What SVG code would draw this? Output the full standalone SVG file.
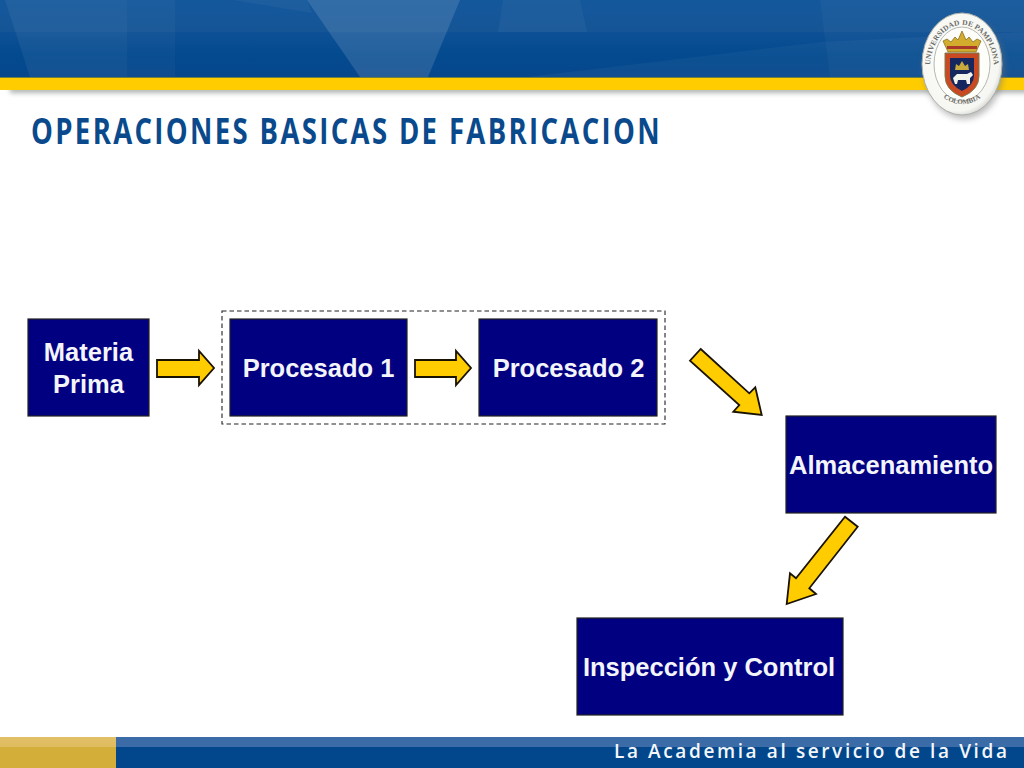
<svg xmlns="http://www.w3.org/2000/svg" width="1024" height="768" viewBox="0 0 1024 768">
<style>
.box{fill:#000080;stroke:#222;stroke-width:1.2}
.lbl{font-family:"Liberation Sans",Arial,sans-serif;font-weight:700;font-size:25.500px;fill:#f4f4fb;text-anchor:middle}
.arrow{fill:#fc0;stroke:#1a1200;stroke-width:1.8;stroke-linejoin:miter}
.facet{fill:#fff}
</style>
<defs>
<linearGradient id="hdrTop" x1="0" y1="0" x2="0" y2="1"><stop offset="0" stop-color="#14589c"/><stop offset="1" stop-color="#155596"/></linearGradient>
<linearGradient id="hdrBot" x1="0" y1="0" x2="0" y2="1"><stop offset="0" stop-color="#0e5095"/><stop offset=".5" stop-color="#034a8f"/><stop offset="1" stop-color="#07478c"/></linearGradient>
<linearGradient id="gold" x1="0" y1="0" x2="0" y2="1"><stop offset="0" stop-color="#e2c067"/><stop offset=".32" stop-color="#e0bc60"/><stop offset=".33" stop-color="#d3ae38"/><stop offset="1" stop-color="#d3ae38"/></linearGradient>
<radialGradient id="seal" cx=".45" cy=".45" r=".6"><stop offset="0" stop-color="#fff"/><stop offset=".85" stop-color="#f6f6f2"/><stop offset="1" stop-color="#c9cbc6"/></radialGradient>
<filter id="soft" x="-30%" y="-30%" width="160%" height="160%"><feGaussianBlur stdDeviation="3"/></filter>
<filter id="blur1" x="-10%" y="-10%" width="120%" height="120%"><feGaussianBlur stdDeviation=".5"/></filter>
<filter id="shadowBlur" x="-2%" y="-100%" width="104%" height="300%"><feGaussianBlur stdDeviation="2.500"/></filter>
<path id="arcTop" d="M930,68 A32,43 0 1 1 994,68"/>
<path id="arcBot" d="M940,95 A34,38 0 0 0 984,95"/>
</defs>

<g id="header">
<rect x="10" y="86" width="1030" height="7" fill="#6e7674" opacity=".55" filter="url(#shadowBlur)"/>
<rect width="1024" height="32" fill="url(#hdrTop)"/>
<rect y="32" width="1024" height="45" fill="url(#hdrBot)"/>
<polygon class="facet" opacity=".13" points="307,0 460,0 428,77 360,77"/>
<polygon class="facet" opacity=".03" points="127,0 175,0 175,77 127,77"/>
<polygon class="facet" opacity=".06" points="5,0 127,0 127,77 30,77"/>
<polygon class="facet" opacity=".04" points="233,0 307,0 312,13"/>
<polygon class="facet" opacity=".04" points="503,0 580,0 587,32 498,32"/>
<polygon class="facet" opacity=".04" points="527,77 820,42 1024,32 1024,77"/>
<polygon class="facet" opacity=".03" points="820,0 1024,0 1024,77 830,77"/>
<rect y="77" width="1024" height="13" fill="#fc0"/>
<rect y="77" width="1024" height="1" fill="#6f7f40"/>
</g>

<g id="title"><text x="31" y="143.500" font-family="'Open Sans','Noto Sans',sans-serif" font-weight="700" font-size="35" letter-spacing="3" fill="#0a4a8c" textLength="631" lengthAdjust="spacingAndGlyphs">OPERACIONES BASICAS DE FABRICACION</text></g>

<g id="logo">
<ellipse cx="964" cy="68" rx="40" ry="51" fill="#777" opacity=".5" filter="url(#soft)"/>
<ellipse cx="962" cy="64" rx="40" ry="51" fill="url(#seal)" stroke="#aab0aa" stroke-width="1"/>
<ellipse cx="962" cy="64" rx="28" ry="37" fill="#fdfdfa" stroke="#b5b8b0" stroke-width="1"/>
<text font-family="'Liberation Serif',serif" font-weight="700" font-size="7.500" fill="#6b6b66"><textPath href="#arcTop" startOffset="50%" text-anchor="middle" textLength="112" lengthAdjust="spacing">UNIVERSIDAD DE PAMPLONA</textPath></text>
<text font-family="'Liberation Serif',serif" font-weight="700" font-size="7" fill="#6b6b66"><textPath href="#arcBot" startOffset="50%" text-anchor="middle">COLOMBIA</textPath></text>
<g filter="url(#blur1)">
<polygon points="943,41 947,39 951,42 955,37 958,40 962,31 966,40 969,37 973,42 977,39 981,41 976,52 948,52" fill="#d3ac2e" stroke="#7d6418" stroke-width=".7"/>
<rect x="947" y="46" width="30" height="3" fill="#a8382a"/>
<path d="M945,53 H979 V76 Q979,90 962,97 Q945,90 945,76 Z" fill="#c94a22" stroke="#7e7a50" stroke-width="1"/>
<path d="M950,58 H974 V76 Q974,85 962,91 Q950,85 950,76 Z" fill="#16265f"/>
<polygon points="955,70 956,64 959,66 962,61 965,66 968,64 969,70" fill="#c9a93a"/>
<path d="M953,78 L957,74 L967,74 L971,72 L973,75 L970,78 L970,84 L967,84 L966,80 L958,80 L957,84 L955,84 Z" fill="#f3f3ee"/>
</g>
</g>

<g id="group-box"><rect x="222" y="311" width="443" height="113" fill="none" stroke="#222" stroke-width="1.1" stroke-dasharray="4.500 3"/></g>

<g id="materia-prima"><rect class="box" x="28" y="319" width="121" height="97"/><text class="lbl" x="88.500" y="361">Materia</text><text class="lbl" x="88.500" y="393">Prima</text></g>
<g id="procesado-1"><rect class="box" x="230" y="319" width="177" height="97"/><text class="lbl" x="318.500" y="377">Procesado 1</text></g>
<g id="procesado-2"><rect class="box" x="479" y="319" width="178" height="97"/><text class="lbl" x="568.500" y="377">Procesado 2</text></g>
<g id="almacenamiento"><rect class="box" x="786" y="416" width="210" height="97"/><text class="lbl" x="891" y="474">Almacenamiento</text></g>
<g id="inspeccion-control"><rect class="box" x="577" y="618" width="266" height="97"/><text class="lbl" x="709" y="676">Inspección y Control</text></g>

<g id="connectors">
<polygon class="arrow" points="157,360 199,360 199,351 214,368 199,385 199,377 157,377"/>
<polygon class="arrow" points="415,360 456,360 456,351 471,368 456,385 456,377 415,377"/>
<polygon class="arrow" points="700.700,349 749.300,393.300 755.300,387.300 761.700,415 733.300,411.700 739.300,405 690,360.700"/>
<polygon class="arrow" points="845,516.700 857.700,526.700 809.300,588.300 816,594 786.700,604 790,573.300 796,578.300"/>
</g>

<g id="footer">
<rect y="737" width="1024" height="31" fill="#02478c"/>
<rect y="737" width="1024" height="10" fill="#3b6ca8"/>
<rect y="737" width="116" height="31" fill="url(#gold)"/>
<text x="614" y="758" font-family="'Open Sans','Noto Sans',sans-serif" font-weight="600" font-size="19" fill="#f4f6fa" textLength="393">La Academia al servicio de la Vida</text>
</g>
</svg>
